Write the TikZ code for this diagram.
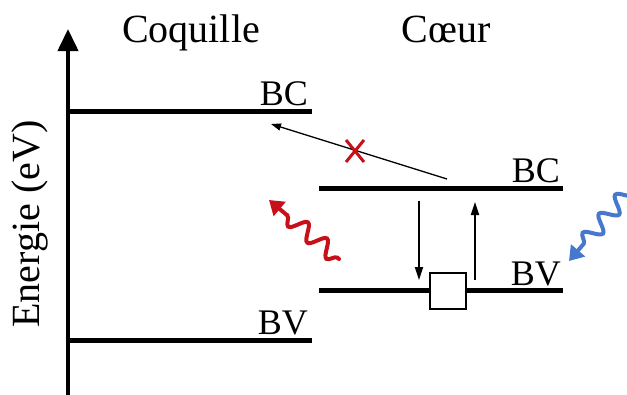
\documentclass[tikz,border=0pt]{standalone}
\usepackage{fontspec}
\setmainfont{Liberation Serif}
\usetikzlibrary{arrows.meta,decorations.pathmorphing,positioning}
\definecolor{photred}{RGB}{200,16,24}
\definecolor{photblue}{RGB}{70,120,205}
\begin{document}
\begin{tikzpicture}[x=1pt,y=-1pt,
    level/.style={line width=5pt},
    lbl/.style={font=\fontsize{40}{48}\selectfont, inner sep=0pt},
    band/.style={font=\fontsize{36}{44}\selectfont, inner sep=0pt, anchor=base east},
    trans/.style={line width=1.8pt, -{Triangle[length=13pt,width=8pt]}},
    photon/.style={line width=4pt, line cap=round, decorate,
      decoration={snake, amplitude=8pt, segment length=25pt, pre length=2pt, post length=12pt},
      -{Triangle[length=14pt,width=18pt]}}]
    \useasboundingbox (0,0) rectangle (627,394);
    \clip (0,0) rectangle (627,394);
    % axe d'energie
    \draw[line width=4pt, -{Triangle[length=22pt,width=20pt]}] (68,396) -- (68,29);
    \node[lbl, rotate=90] (axis) at (30,224) {Energie (eV)};
    % niveaux coquille
    \coordinate (shBCl) at (66,111);  \coordinate (shBCr) at (312,111);
    \coordinate (shBVl) at (66,340);  \coordinate (shBVr) at (312,340);
    \draw[level] (shBCl) -- (shBCr);
    \draw[level] (shBVl) -- (shBVr);
    \node[band] (shBC) at (308,105) {BC};
    \node[band] (shBV) at (308,334) {BV};
    % niveaux coeur
    \coordinate (coBCl) at (319,188); \coordinate (coBCr) at (563,188);
    \coordinate (coBVl) at (319,290); \coordinate (coBVr) at (563,290);
    \draw[level] (coBCl) -- (coBCr);
    \draw[level] (coBVl) -- (coBVr);
    \node[band] (coBC) at (560,182) {BC};
    \node[band] (coBV) at (561,285) {BV};
    \node[draw, fill=white, line width=2.5pt, minimum size=36pt] (trap) at (448,291) {};
    % titres
    \node[lbl, anchor=base] (shell) at (191,42) {Coquille};
    \node[lbl, anchor=base] (core) at (446,42) {C\oe ur};
    % transitions
    \coordinate (dnA) at (419,201); \coordinate (dnB) at (419,280);
    \coordinate (upA) at (475,280); \coordinate (upB) at (475,202);
    \draw[trans] (dnA) -- (dnB);
    \draw[trans] (upA) -- (upB);
    \coordinate (injA) at (447,179); \coordinate (injB) at (271,124);
    \draw[line width=1.3pt, -{Triangle[length=10pt,width=7pt]}] (injA) -- (injB);
    \coordinate (cross) at (355,151);
    \draw[photred, line width=3pt] ([shift={(-9,-11)}]cross) -- ([shift={(9,11)}]cross)
                                    ([shift={(9,-11)}]cross) -- ([shift={(-9,11)}]cross);
    % photons
    \coordinate (emA) at (339,259); \coordinate (emB) at (269,200);
    \draw[photon, photred] (emA) -- (emB);
    \coordinate (abA) at (652,164); \coordinate (abB) at (569,261);
    \draw[photon, photblue] (abA) -- (abB);
\end{tikzpicture}
\end{document}
